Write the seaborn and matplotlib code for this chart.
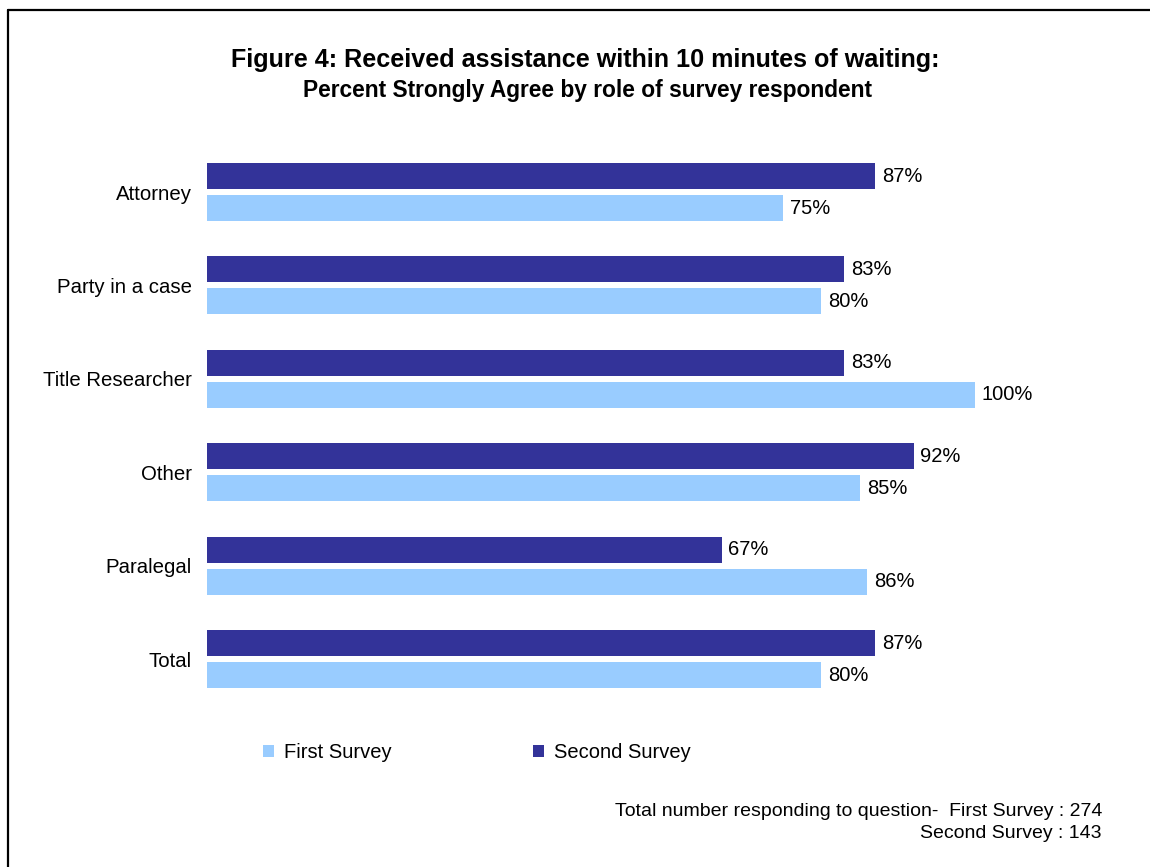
import matplotlib
matplotlib.use("Agg")
import matplotlib.pyplot as plt
from matplotlib.patches import Patch
from matplotlib.lines import Line2D
import seaborn as sns
import pandas as pd

roles = ["Attorney", "Party in a case", "Title Researcher", "Other", "Paralegal", "Total"]
second_survey = [87, 83, 83, 92, 67, 87]
first_survey = [75, 80, 100, 85, 86, 80]
series_names = ["First Survey", "Second Survey"]
colors = {"First Survey": "#99CCFF", "Second Survey": "#333399"}

df = pd.DataFrame({
    "role": roles * 2,
    "survey": ["Second Survey"] * len(roles) + ["First Survey"] * len(roles),
    "pct": second_survey + first_survey,
})

sns.set_style("white")
plt.rcParams["font.family"] = ["Liberation Sans", "DejaVu Sans"]
plt.rcParams["text.color"] = "black"

fig = plt.figure(figsize=(11.5, 8.67), dpi=100)
ax = fig.add_axes([0.18, 0.186, 0.6678, 0.6464])

sns.barplot(data=df, y="role", x="pct", hue="survey", order=roles,
            hue_order=["Second Survey", "First Survey"], palette=colors,
            orient="h", width=0.685, gap=0.19, legend=False, ax=ax,
            linewidth=0, saturation=1)

for container in ax.containers:
    ax.bar_label(container, labels=[f"{v:.0f}%" for v in container.datavalues],
                 padding=5, fontsize=14.5, color="black")

ax.set_xlim(0, 100)
ax.set_ylim(5.5, -0.5)
ax.set_xlabel("")
ax.set_ylabel("")
ax.set_xticks([])
ax.tick_params(axis="y", length=0, labelsize=14.7, pad=11, colors="black")
for s in ax.spines.values():
    s.set_visible(False)

fig.text(0.509, 1 - 60.5 / 867, "Figure 4: Received assistance within 10 minutes of waiting:",
         ha="center", va="center", fontsize=18.1, fontweight="bold")
fig.text(0.5105, 1 - 90.5 / 867, "Percent Strongly Agree by role of survey respondent",
         ha="center", va="center", fontsize=16.4, fontweight="bold")

handles = [Patch(facecolor=colors[n], edgecolor="none", label=n) for n in series_names]
fig.legend(handles=handles, loc="center left", bbox_to_anchor=(253 / 1150, 1 - 753 / 867),
           ncol=2, frameon=False, fontsize=14.5, handlelength=0.55, handleheight=0.55,
           handletextpad=0.5, columnspacing=7.0, borderpad=0)

fig.text(1102 / 1150, 1 - 811 / 867, "Total number responding to question-  First Survey : 274",
         ha="right", va="center", fontsize=14)
fig.text(1102 / 1150, 1 - 834 / 867, "Second Survey : 143",
         ha="right", va="center", fontsize=14)

# outer frame (top and left edges)
fig.add_artist(Line2D([7.5 / 1150, 1.01], [1 - 9.5 / 867, 1 - 9.5 / 867],
                      transform=fig.transFigure, color="black", lw=1.6))
fig.add_artist(Line2D([7.5 / 1150, 7.5 / 1150], [-0.01, 1 - 9.5 / 867],
                      transform=fig.transFigure, color="black", lw=1.6))

fig.savefig("out.png", dpi=100, facecolor="white")
